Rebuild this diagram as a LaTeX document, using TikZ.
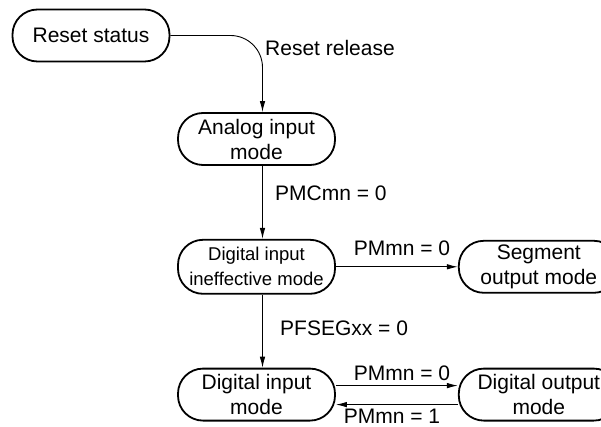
\documentclass[tikz,border=0pt]{standalone}
\usepackage{fontspec}
\setmainfont{Liberation Sans}
\usepackage{tikz}
\usetikzlibrary{positioning,arrows.meta}

\begin{document}
\begin{tikzpicture}[x=1pt, y=-1pt, node distance=73pt and 122pt, >=Latex, font=\fontsize{21}{25}\selectfont]
\tikzstyle{mode}=[draw, rectangle, rounded corners=25pt, line width=1.8pt, minimum width=157pt, minimum height=52pt, inner sep=1pt, align=center]
\tikzstyle{modeW}=[mode, minimum width=160pt]
\tikzstyle{arr}=[-{Latex[length=11pt, width=5.5pt]}, line width=0.9pt]
\tikzstyle{lbl}=[inner sep=0pt]

\useasboundingbox[fill=white] (0,0) rectangle (601,427);

\node[mode] (reset) at (91,35.5) {Reset status};
\node[mode] (ana) at (256.5,139) {Analog input\\mode};
\node[mode, below=of ana, minimum height=54pt, font=\fontsize{18.5}{25}\selectfont] (dii) {Digital input\\ineffective mode};
\node[modeW, right=of dii] (seg) {Segment\\output mode};
\node[mode, below=of dii] (dim) {Digital input\\mode};
\node[modeW, right=of dim] (dom) {Digital output\\mode};

% transitions
\draw[arr, rounded corners=32pt] (reset.east) -| ([xshift=6pt]ana.north);
\node[lbl, anchor=west] (relbl) at (265,48) {Reset release};

\draw[arr] ([xshift=6pt]ana.south) -- ([xshift=6pt]dii.north);
\node[lbl, anchor=west] (pmclbl) at (275,193) {PMCmn = 0};

\draw[arr] (dii) -- node[lbl, above=11pt, xshift=5pt] (pmsg) {PMmn = 0} (seg);

\draw[arr] ([xshift=6pt]dii.south) -- ([xshift=6pt]dim.north);
\node[lbl, anchor=west] (pfslbl) at (280,328.5) {PFSEGxx = 0};

\draw[arr] ([yshift=9pt]dim.east) -- node[lbl, above=4pt, xshift=5pt] (pmout) {PMmn = 0} ([yshift=9pt]dom.west);
\draw[arr] ([yshift=-10pt]dom.west) -- node[lbl, below=4pt, xshift=-5pt] (pmin) {PMmn = 1} ([yshift=-10pt]dim.east);
\end{tikzpicture}
\end{document}
